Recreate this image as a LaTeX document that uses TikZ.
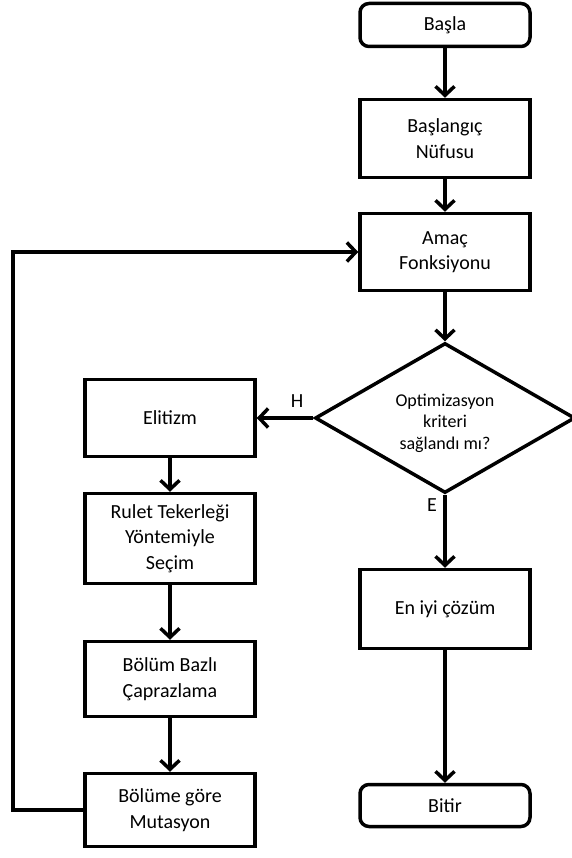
\documentclass[tikz,border=0pt]{standalone}
\usepackage{fontspec}
\setmainfont{Carlito}
\usetikzlibrary{arrows.meta,shapes.geometric}
\begin{document}
\begin{tikzpicture}[x=1pt,y=-1pt,
  proc/.style={draw=black,line width=3.5pt,fill=white,minimum width=170pt,
    align=center,inner sep=0pt,font=\fontsize{20}{25.5}\selectfont},
  term/.style={proc,rounded corners=9pt},
  decision/.style={diamond,draw=black,line width=3.5pt,fill=white,aspect=1.733,
    minimum width=260pt,minimum height=150pt,inner sep=0pt},
  dtext/.style={align=center,inner sep=0pt,font=\fontsize{18}{21.5}\selectfont},
  flow/.style={line width=3.5pt,-{Straight Barb[length=9pt,width=19pt,line width=3.5pt]}},
  tag/.style={font=\fontsize{20}{24}\selectfont,inner sep=0pt}
]
\useasboundingbox (0,0) rectangle (571,858);

% right column
\node[term,minimum height=43pt] (start) at (445,25) {Başla};
\node[proc,minimum height=78pt] (init) at (445,138.5) {Başlangıç\\Nüfusu};
\node[proc,minimum height=77pt] (obj) at (445,252) {Amaç\\Fonksiyonu};
\node[decision] (check) at (445,418) {};
\node[dtext] (checktext) at (445,423) {Optimizasyon\\kriteri\\sağlandı mı?};
\node[proc,minimum height=79pt] (best) at (445,609) {En iyi çözüm};
\node[term,minimum height=42pt] (stop) at (445,805.5) {Bitir};

% left column
\node[proc,minimum height=77pt] (elit) at (170,418) {Elitizm};
\node[proc,minimum height=90pt] (sel) at (170,538.5) {Rulet Tekerleği\\Yöntemiyle\\Seçim};
\node[proc,minimum height=75pt] (cross) at (170,679) {Bölüm Bazlı\\Çaprazlama};
\node[proc,minimum height=73pt] (mut) at (170,810) {Bölüme göre\\Mutasyon};

% branch labels
\node[tag] (no) at (297,401) {H};
\node[tag] (yes) at (432,505) {E};

% connectors
\draw[flow] (start) -- (init);
\draw[flow] (init) -- (obj);
\draw[flow] (obj) -- (check);
\draw[flow] (check.west) -- (elit);
\draw[flow] (check.south) -- (best);
\draw[flow] (best) -- (stop);
\draw[flow] (elit) -- (sel);
\draw[flow] (sel) -- (cross);
\draw[flow] (cross) -- (mut);
\coordinate (back) at (13,810);
\draw[flow] (mut.west) -- (back) |- (obj.west);
\end{tikzpicture}
\end{document}
